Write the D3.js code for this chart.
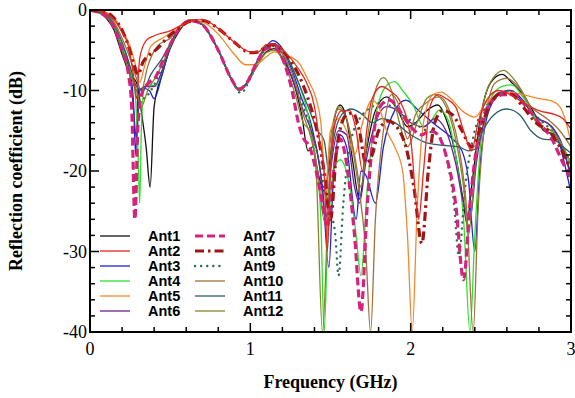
<!DOCTYPE html>
<html><head><meta charset="utf-8">
<script src="https://cdn.jsdelivr.net/npm/d3@7"></script>
<style>body{margin:0;background:#fff}svg{display:block}</style>
</head><body>
<svg id="c" width="575" height="398"></svg>
<script>
const names = ["Ant1","Ant2","Ant3","Ant4","Ant5","Ant6","Ant7","Ant8","Ant9","Ant10","Ant11","Ant12"];
const colors = ["#111111","#e8261f","#1f1fd6","#2ee02e","#f0892e","#6b1fa0","#d4237a","#9e1616","#2b6e52","#a0703c","#2f5c6c","#85852c"];
const xTicks = [0,1,2,3];
const yTicks = [0,-10,-20,-30,-40];

const ant1 = [[0,0],[0.05,-0.2],[0.1,-1],[0.15,-2.5],[0.2,-5.5],[0.25,-8],[0.29,-9],[0.33,-14],[0.35,-17],[0.375,-22],[0.4,-12],[0.45,-8],[0.5,-4.8],[0.56,-2.5],[0.63,-1.2],[0.7,-1.8],[0.8,-5],[0.88,-8.5],[0.93,-10],[0.98,-9],[1.04,-7],[1.1,-5.2],[1.15,-4.8],[1.2,-6],[1.27,-9],[1.32,-13],[1.36,-17.5],[1.39,-17],[1.42,-20],[1.46,-22.5],[1.5,-18],[1.53,-13],[1.56,-11.8],[1.6,-13.5],[1.64,-19],[1.68,-23.5],[1.72,-18],[1.78,-12.5],[1.85,-10.8],[1.92,-12.5],[1.98,-14.5],[2.03,-14],[2.1,-12.5],[2.17,-11.8],[2.22,-13.5],[2.28,-18],[2.33,-24],[2.35,-26.5],[2.38,-22],[2.43,-14],[2.5,-9],[2.57,-8],[2.63,-9],[2.7,-10.5],[2.77,-12.8],[2.83,-15],[2.9,-15.5],[2.95,-17.5],[3.0,-20.3]];
const ant2 = [[0,0],[0.05,-0.1],[0.1,-0.4],[0.15,-1.2],[0.2,-2.8],[0.24,-4.5],[0.27,-8],[0.29,-11],[0.31,-6],[0.35,-3.8],[0.4,-3.2],[0.5,-2.6],[0.6,-1.6],[0.7,-1.2],[0.8,-2.3],[0.9,-4],[1.0,-5.2],[1.05,-5.2],[1.1,-4.3],[1.15,-4.2],[1.22,-5.3],[1.3,-7.3],[1.35,-9],[1.4,-12],[1.43,-16],[1.46,-20],[1.48,-30],[1.5,-20],[1.53,-14],[1.57,-12.5],[1.62,-12.5],[1.66,-15],[1.7,-20],[1.72,-16],[1.76,-11],[1.82,-9.5],[1.88,-10.2],[1.93,-11.2],[2.0,-16],[2.05,-26],[2.08,-20],[2.12,-12],[2.17,-10.5],[2.22,-11],[2.28,-12],[2.33,-15],[2.38,-17.5],[2.42,-14],[2.48,-11],[2.55,-10],[2.62,-10.5],[2.7,-11.5],[2.8,-12.5],[2.9,-13],[2.95,-13.5],[3.0,-14.8]];
const ant3 = [[0,0],[0.1,-0.8],[0.15,-2.2],[0.2,-4.5],[0.24,-6.5],[0.27,-11],[0.285,-18],[0.3,-10],[0.33,-9.7],[0.37,-10],[0.4,-11],[0.45,-8],[0.5,-4.5],[0.56,-2.2],[0.63,-1.4],[0.7,-1.8],[0.8,-5],[0.88,-8.5],[0.93,-10],[0.98,-9],[1.04,-6.5],[1.1,-4.5],[1.14,-3.8],[1.2,-4.8],[1.27,-8],[1.32,-11],[1.37,-13.5],[1.41,-17],[1.45,-22],[1.49,-32],[1.52,-20],[1.56,-15.5],[1.6,-17],[1.66,-26],[1.69,-20],[1.72,-20.5],[1.78,-24],[1.83,-17],[1.9,-12.5],[1.97,-11.2],[2.05,-12.5],[2.15,-14.2],[2.25,-15.8],[2.32,-17.5],[2.36,-21],[2.4,-30],[2.43,-20],[2.48,-13],[2.55,-10.5],[2.62,-10],[2.7,-11.2],[2.78,-13.5],[2.85,-14],[2.92,-16],[2.97,-20],[3.0,-22.7]];
const ant4 = [[0,0],[0.1,-0.7],[0.15,-2],[0.2,-4.5],[0.25,-7.5],[0.28,-10],[0.3,-18],[0.31,-24],[0.32,-15],[0.34,-9.5],[0.38,-9.3],[0.41,-9.5],[0.45,-7.5],[0.5,-4.5],[0.56,-2.2],[0.63,-1.3],[0.7,-1.8],[0.8,-5],[0.88,-8.5],[0.93,-10],[0.98,-9],[1.04,-6.5],[1.1,-4.6],[1.15,-4.3],[1.22,-5.5],[1.3,-9],[1.36,-13],[1.41,-19],[1.44,-26],[1.46,-40],[1.48,-30],[1.52,-20],[1.56,-18.6],[1.62,-22],[1.66,-28],[1.69,-33],[1.73,-22],[1.8,-11.5],[1.86,-9.2],[1.9,-8.9],[1.95,-10],[2.02,-12],[2.08,-14.5],[2.12,-14],[2.18,-12.4],[2.23,-13.5],[2.28,-18],[2.33,-26],[2.37,-40],[2.4,-28],[2.44,-16],[2.5,-11],[2.57,-9.5],[2.63,-9.3],[2.7,-10.8],[2.78,-13.5],[2.85,-14],[2.92,-16],[2.97,-18],[3.0,-19.5]];
const ant5 = [[0,0],[0.1,-0.3],[0.15,-1],[0.2,-2.5],[0.25,-4.5],[0.28,-6.5],[0.31,-9],[0.34,-7],[0.38,-4.5],[0.45,-3.5],[0.55,-2.3],[0.63,-1.4],[0.7,-1.5],[0.8,-3],[0.9,-5.5],[0.97,-6.8],[1.03,-6.8],[1.1,-5.8],[1.15,-5.2],[1.22,-5.6],[1.3,-6.5],[1.36,-8.7],[1.41,-11],[1.44,-14],[1.47,-22],[1.5,-15],[1.55,-13.5],[1.6,-15],[1.65,-18],[1.7,-14],[1.76,-11.2],[1.8,-12],[1.85,-15],[1.9,-17],[1.95,-20],[1.98,-28],[2.01,-40],[2.04,-25],[2.08,-14],[2.14,-10.5],[2.19,-10.2],[2.25,-11],[2.32,-12.5],[2.4,-13.3],[2.47,-11.5],[2.55,-10.5],[2.62,-10.2],[2.7,-10.5],[2.8,-11],[2.88,-11.3],[2.93,-12],[2.97,-14],[3.0,-16.5]];
const ant6 = [[0,0],[0.1,-0.8],[0.15,-2.2],[0.2,-5],[0.24,-7],[0.27,-12],[0.29,-16],[0.31,-10],[0.35,-9.5],[0.4,-9.5],[0.45,-7.5],[0.5,-4.5],[0.56,-2.2],[0.63,-1.3],[0.7,-1.8],[0.8,-5],[0.88,-8.5],[0.93,-10],[0.98,-9],[1.04,-6.5],[1.1,-4.6],[1.15,-4.2],[1.2,-5.5],[1.27,-9],[1.33,-12.5],[1.38,-15],[1.43,-19],[1.47,-26],[1.5,-20],[1.55,-15],[1.6,-15.5],[1.65,-22],[1.68,-24],[1.72,-19],[1.78,-14],[1.85,-12],[1.92,-12.5],[2.0,-14],[2.08,-14.5],[2.15,-13.5],[2.22,-15],[2.28,-19],[2.33,-24],[2.37,-26],[2.41,-19],[2.47,-13],[2.55,-10.3],[2.62,-10],[2.7,-11.5],[2.8,-13.5],[2.88,-14.5],[2.95,-17],[3.0,-21]];
const ant7 = [[0,0],[0.1,-0.8],[0.15,-2.2],[0.2,-5],[0.24,-8],[0.26,-12],[0.28,-26],[0.3,-14],[0.33,-10],[0.37,-9],[0.41,-8.3],[0.45,-6.5],[0.5,-4.3],[0.56,-2.2],[0.63,-1.3],[0.7,-1.8],[0.8,-5],[0.88,-8.5],[0.93,-9.8],[0.98,-9],[1.04,-6.5],[1.1,-4.8],[1.15,-4.6],[1.2,-6],[1.26,-10],[1.3,-14],[1.33,-15.9],[1.37,-17],[1.41,-20],[1.45,-24],[1.48,-27],[1.52,-20],[1.56,-16],[1.6,-19],[1.65,-28],[1.69,-37.5],[1.73,-24],[1.78,-14],[1.83,-11.5],[1.87,-11.2],[1.93,-12.5],[2.0,-14.5],[2.07,-15.5],[2.12,-15],[2.16,-15.3],[2.22,-18],[2.28,-24],[2.33,-33.5],[2.37,-24],[2.42,-16],[2.5,-11.5],[2.58,-10.5],[2.65,-10.5],[2.72,-12],[2.8,-14],[2.88,-16],[2.95,-19],[3.0,-21]];
const ant8 = [[0,0],[0.1,-0.3],[0.15,-1],[0.2,-2.5],[0.24,-4.5],[0.27,-6.5],[0.3,-8],[0.33,-6.5],[0.37,-5.6],[0.42,-4.8],[0.48,-3.5],[0.55,-2.3],[0.63,-1.4],[0.7,-1.3],[0.8,-2.3],[0.9,-4],[1.0,-5.3],[1.05,-5.2],[1.1,-4.5],[1.15,-4.3],[1.22,-5.5],[1.3,-8],[1.36,-11],[1.41,-14.5],[1.46,-20],[1.5,-26],[1.54,-17],[1.6,-13],[1.64,-12.8],[1.68,-15],[1.72,-19],[1.76,-18],[1.8,-15],[1.86,-13.8],[1.92,-14.7],[1.97,-17],[2.02,-22],[2.07,-29],[2.11,-20],[2.15,-14],[2.2,-12.5],[2.26,-13],[2.32,-15],[2.38,-17],[2.43,-15],[2.5,-11.5],[2.57,-10.3],[2.63,-10.5],[2.7,-12],[2.78,-14],[2.86,-15],[2.93,-17],[3.0,-20]];
const ant9 = [[0,0],[0.1,-0.8],[0.15,-2.2],[0.2,-5],[0.25,-8],[0.29,-10],[0.33,-11],[0.38,-10],[0.43,-8],[0.5,-4.5],[0.56,-2.2],[0.63,-1.3],[0.7,-1.8],[0.8,-5],[0.88,-8.5],[0.94,-10.3],[1.0,-8.5],[1.05,-6.3],[1.1,-4.8],[1.15,-4.5],[1.22,-6],[1.28,-9],[1.33,-12],[1.38,-15],[1.42,-18],[1.46,-22],[1.5,-25],[1.53,-28],[1.55,-33],[1.58,-24],[1.63,-16],[1.7,-13],[1.76,-12],[1.82,-11.5],[1.88,-12],[1.95,-13],[2.02,-14],[2.1,-15],[2.17,-15.5],[2.23,-19],[2.27,-24],[2.3,-30.5],[2.34,-22],[2.4,-15],[2.47,-12],[2.55,-10.5],[2.62,-10],[2.7,-11.5],[2.8,-13.5],[2.9,-15.5],[3.0,-19]];
const ant10 = [[0,0],[0.1,-0.5],[0.15,-1.5],[0.2,-3.5],[0.25,-6],[0.29,-8.5],[0.32,-10],[0.36,-7],[0.42,-4.5],[0.5,-3.5],[0.56,-2.2],[0.63,-1.3],[0.7,-1.8],[0.8,-5],[0.88,-8.5],[0.93,-10],[0.98,-9],[1.04,-6.5],[1.1,-4.6],[1.15,-4.3],[1.22,-6],[1.28,-9],[1.33,-13],[1.38,-16],[1.42,-20],[1.46,-26],[1.5,-16],[1.55,-12.3],[1.6,-13.5],[1.66,-20],[1.72,-30],[1.75,-40],[1.78,-26],[1.83,-15],[1.88,-10.5],[1.93,-12],[1.98,-16],[2.03,-13],[2.1,-11.5],[2.18,-10.8],[2.25,-13],[2.3,-17],[2.35,-25],[2.39,-40],[2.42,-25],[2.47,-13],[2.53,-9],[2.6,-8.5],[2.67,-9.5],[2.75,-12],[2.85,-13.5],[2.93,-15],[3.0,-17]];
const ant11 = [[0,0],[0.1,-0.6],[0.15,-1.8],[0.2,-4],[0.25,-7],[0.29,-9.5],[0.33,-10],[0.38,-8],[0.45,-6],[0.5,-4.2],[0.56,-2.2],[0.63,-1.3],[0.7,-1.8],[0.8,-5],[0.88,-8.5],[0.93,-9.8],[0.98,-9],[1.04,-6.5],[1.1,-4.5],[1.15,-4.3],[1.22,-5.5],[1.3,-9],[1.36,-12],[1.42,-15],[1.46,-16.2],[1.49,-20],[1.52,-16],[1.57,-13],[1.63,-12.3],[1.7,-13],[1.76,-14],[1.82,-13.5],[1.9,-14],[2.0,-15.5],[2.1,-16.5],[2.2,-16.8],[2.3,-17],[2.36,-17.5],[2.4,-17.3],[2.45,-15],[2.52,-13],[2.6,-12.3],[2.68,-13],[2.75,-15],[2.82,-16],[2.9,-16.2],[2.95,-17],[3.0,-17.8]];
const ant12 = [[0,0],[0.1,-0.8],[0.15,-2.2],[0.2,-5],[0.25,-8],[0.29,-10],[0.32,-12],[0.36,-10],[0.42,-8],[0.5,-4.5],[0.56,-2.2],[0.63,-1.2],[0.7,-1.8],[0.8,-5],[0.88,-8.5],[0.93,-10],[0.98,-9],[1.04,-7],[1.1,-5.3],[1.15,-5],[1.22,-7],[1.28,-10.5],[1.33,-14],[1.37,-15],[1.41,-20],[1.45,-40],[1.49,-22],[1.52,-14],[1.55,-12],[1.6,-13.5],[1.65,-18],[1.69,-22],[1.73,-16],[1.78,-10],[1.83,-8.4],[1.88,-10],[1.93,-14],[1.98,-17],[2.04,-14],[2.1,-11],[2.15,-10.5],[2.22,-12],[2.28,-16],[2.33,-22],[2.36,-28],[2.4,-20],[2.45,-12],[2.52,-8.3],[2.58,-7.5],[2.64,-8.5],[2.72,-11],[2.8,-14.5],[2.88,-15],[2.95,-17],[3.0,-19]];
const seriesData = [ant1,ant2,ant3,ant4,ant5,ant6,ant7,ant8,ant9,ant10,ant11,ant12];

const styles = names.map((n,i)=>{
  if(i===6) return {w:3.2,dash:"8,4",cap:"butt"};
  if(i===7) return {w:3.2,dash:"9,4,2.5,4",cap:"butt"};
  if(i===8) return {w:2.4,dash:"0.1,6",cap:"round"};
  return {w:1.3,dash:null,cap:"butt"};
});

const svg = d3.select("#c");
const L=90,R=571,T=10,B=332;
const x = d3.scaleLinear().domain([0,3]).range([L,R]);
const y = d3.scaleLinear().domain([-40,0]).range([B,T]);

svg.append("clipPath").attr("id","cp").append("rect").attr("x",L).attr("y",T).attr("width",R-L).attr("height",B-T);
const g = svg.append("g").attr("clip-path","url(#cp)");
const line = d3.line().x(d=>x(d[0])).y(d=>y(d[1])).curve(d3.curveMonotoneX);
const order = [0,2,3,5,8,11,9,10,4,6,7,1];
order.forEach(i=>{
  g.append("path").datum(seriesData[i]).attr("d",line)
   .attr("fill","none").attr("stroke",colors[i]).attr("stroke-width",styles[i].w)
   .attr("stroke-dasharray",styles[i].dash).attr("stroke-linecap",styles[i].cap)
   .attr("stroke-linejoin","round");
});

// axes with inward ticks
const serif = "'Liberation Serif','Times New Roman',serif";
const xMinor = d3.range(0,3.001,0.2);
const yMinor = d3.range(-40,0.001,2);
const tg = svg.append("g").attr("stroke","#000").attr("stroke-width",1.5);
xMinor.forEach(v=>{
  const major = Math.abs(v-Math.round(v))<1e-6;
  const len = major?9:5;
  tg.append("line").attr("x1",x(v)).attr("x2",x(v)).attr("y1",B).attr("y2",B-len);
  tg.append("line").attr("x1",x(v)).attr("x2",x(v)).attr("y1",T).attr("y2",T+len);
});
yMinor.forEach(v=>{
  const major = Math.abs(v%10)<1e-6;
  const len = major?9:5;
  tg.append("line").attr("x1",L).attr("x2",L+len).attr("y1",y(v)).attr("y2",y(v));
  tg.append("line").attr("x1",R).attr("x2",R-len).attr("y1",y(v)).attr("y2",y(v));
});
svg.append("rect").attr("x",L).attr("y",T).attr("width",R-L).attr("height",B-T)
  .attr("fill","none").attr("stroke","#000").attr("stroke-width",2);

xTicks.forEach(v=>{
  svg.append("text").attr("x",x(v)).attr("y",B+23).attr("text-anchor","middle")
    .attr("font-family",serif).attr("font-size",18).text(v);
});
yTicks.forEach(v=>{
  svg.append("text").attr("x",L-3).attr("y",y(v)+6).attr("text-anchor","end")
    .attr("font-family",serif).attr("font-size",18).text(v);
});
svg.append("text").attr("x",(L+R)/2).attr("y",388).attr("text-anchor","middle")
  .attr("font-family",serif).attr("font-size",18).attr("font-weight","bold").text("Frequency (GHz)");
svg.append("text").attr("transform",`translate(22,${(T+B)/2}) rotate(-90)`).attr("text-anchor","middle")
  .attr("font-family",serif).attr("font-size",18).attr("font-weight","bold").text("Reflection coefficient (dB)");

// legend
const lg = svg.append("g");
names.forEach((n,i)=>{
  const col = Math.floor(i/6), row = i%6;
  const lx = col===0?100:195, ly = 236+row*15;
  lg.append("line").attr("x1",lx).attr("x2",lx+30).attr("y1",ly).attr("y2",ly)
    .attr("stroke",colors[i]).attr("stroke-width",styles[i].w)
    .attr("stroke-dasharray",styles[i].dash).attr("stroke-linecap",styles[i].cap);
  lg.append("text").attr("x",lx+48).attr("y",ly+5).attr("font-family","'Liberation Sans',Arial,sans-serif")
    .attr("font-size",14.5).attr("font-weight","bold").text(n);
});
</script>
</body></html>
